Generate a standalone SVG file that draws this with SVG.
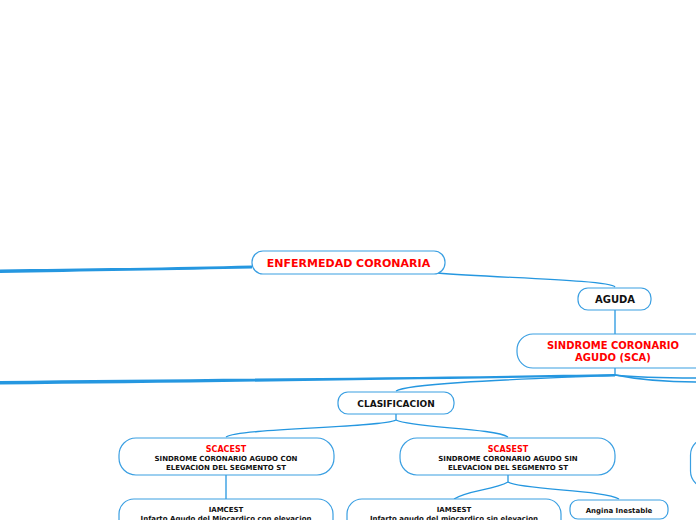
<svg xmlns="http://www.w3.org/2000/svg" width="696" height="520" viewBox="0 0 696 520">
<style>
.n{fill:#fff;stroke:#3a9fe2;stroke-width:1.2}
.c{fill:none;stroke:#2597e0;stroke-width:1.3}
.t{font-family:"DejaVu Sans",Verdana,sans-serif;font-weight:bold;text-anchor:middle;fill:#111}
.r{fill:#f00}
</style>
<rect width="696" height="520" fill="#fff"/>
<g id="connectors">
<path d="M0,269.5 C80,268.5 180,267.5 252,265.5 L252,268.5 C180,270 80,271.5 0,273 Z" fill="#2597e0"/>
<path class="c" d="M437,273 C500,278 610,280 615,287"/>
<path class="c" d="M615,310 L615,334"/>
<path class="c" d="M615,368 L615,375"/>
<path d="M615,374 C450,377 200,379 0,381 L0,384.5 C200,383 450,378.5 615,376.5 Z" fill="#2597e0"/>
<path class="c" d="M615,375 C640,378 670,378 696,378"/>
<path class="c" stroke-width="2" d="M615,375 C640,380 670,382 696,382"/>
<path class="c" d="M615,375 C560,378 410,382 396,391"/>
<path class="c" d="M396,414 L396,420 C380,428 240,428 226,437"/>
<path class="c" d="M396,420 C412,428 494,428 508,437"/>
<path class="c" d="M226,475 L226,499"/>
<path class="c" d="M508,475 L508,482 C494,490 468,490 454,499"/>
<path class="c" d="M508,482 C522,490 605,490 619,499"/>
</g>
<g id="n-enfermedad">
<rect class="n" x="252" y="251" width="193" height="23" rx="11"/>
<text class="t r" x="348.5" y="267" font-size="11">ENFERMEDAD CORONARIA</text>
</g>
<g id="n-aguda">
<rect class="n" x="578" y="288" width="73" height="22" rx="10"/>
<text class="t" x="615" y="303" font-size="10">AGUDA</text>
</g>
<g id="n-sca">
<rect class="n" x="517" y="334" width="200" height="34" rx="16"/>
<text class="t r" x="613" y="349" font-size="10">SINDROME CORONARIO</text>
<text class="t r" x="613" y="361" font-size="10">AGUDO (SCA)</text>
</g>
<g id="n-clasificacion">
<rect class="n" x="338" y="392" width="116" height="22" rx="10"/>
<text class="t" x="396" y="407" font-size="9">CLASIFICACION</text>
</g>
<g id="n-scacest">
<rect class="n" x="119" y="438" width="215" height="37" rx="17"/>
<text class="t r" x="226" y="452" font-size="8">SCACEST</text>
<text class="t" x="226" y="460.5" font-size="7">SINDROME CORONARIO AGUDO CON</text>
<text class="t" x="226" y="469.5" font-size="7">ELEVACION DEL SEGMENTO ST</text>
</g>
<g id="n-scasest">
<rect class="n" x="400" y="438" width="215" height="37" rx="17"/>
<text class="t r" x="508" y="452" font-size="8">SCASEST</text>
<text class="t" x="508" y="460.5" font-size="7">SINDROME CORONARIO AGUDO SIN</text>
<text class="t" x="508" y="469.5" font-size="7">ELEVACION DEL SEGMENTO ST</text>
</g>
<g id="n-right">
<rect class="n" x="690.5" y="438" width="60" height="50" rx="17"/>
</g>
<g id="n-iamcest">
<rect class="n" x="119" y="499" width="214" height="40" rx="15"/>
<text class="t" x="226" y="512" font-size="7">IAMCEST</text>
<text class="t" x="226" y="521" font-size="7">Infarto Agudo del Miocardico con elevacion</text>
</g>
<g id="n-iamsest">
<rect class="n" x="347" y="499" width="214" height="40" rx="15"/>
<text class="t" x="454" y="512" font-size="7">IAMSEST</text>
<text class="t" x="454" y="521" font-size="7">Infarto agudo del miocardico sin elevacion</text>
</g>
<g id="n-angina">
<rect class="n" x="570" y="500" width="98" height="19" rx="8"/>
<text class="t" x="619" y="512.5" font-size="7">Angina Inestable</text>
</g>
</svg>
